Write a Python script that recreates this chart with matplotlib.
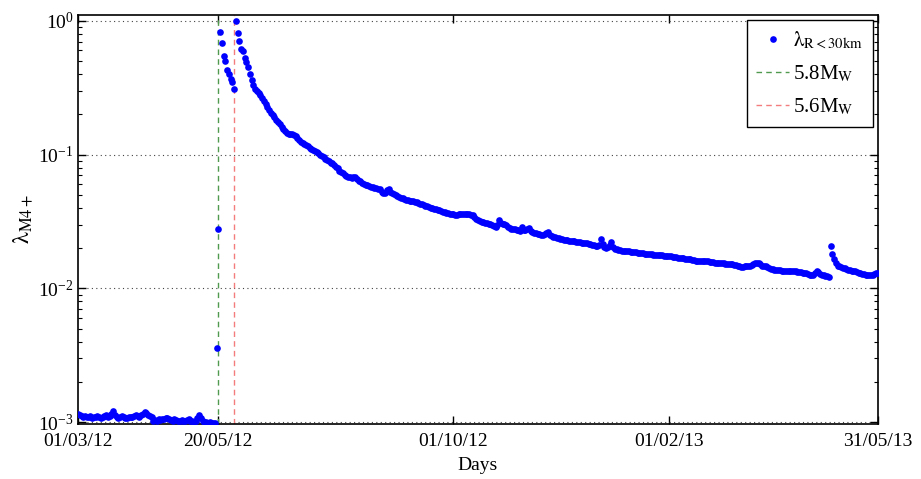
import matplotlib
matplotlib.use('Agg')
import matplotlib.pyplot as plt
import matplotlib.dates as mdates
from matplotlib.ticker import LogLocator, NullFormatter
import numpy as np
import pandas as pd

plt.rcParams['font.family'] = ['Liberation Serif', 'DejaVu Serif']
plt.rcParams['mathtext.fontset'] = 'stix'

start_date = '2012-03-01'
end_date = '2013-05-31'
shock1_date = '2012-05-20'   # 5.8 Mw
shock2_date = '2012-05-29'   # 5.6 Mw
tick_dates = ['2012-03-01', '2012-05-20', '2012-10-01', '2013-02-01', '2013-05-31']

# daily rate, days 0..78 (before first shock)
pre_shock = [1.15e-3, 1.13e-3, 1.12e-3, 1.10e-3, 1.11e-3, 1.09e-3, 1.10e-3, 1.12e-3, 1.08e-3, 1.09e-3, 1.10e-3,
             1.11e-3, 1.09e-3, 1.07e-3, 1.10e-3, 1.12e-3, 1.13e-3, 1.09e-3, 1.11e-3, 1.16e-3, 1.21e-3,
             1.14e-3, 1.10e-3, 1.08e-3, 1.09e-3, 1.12e-3, 1.10e-3, 1.07e-3, 1.08e-3, 1.10e-3, 1.09e-3,
             1.10e-3, 1.11e-3, 1.13e-3, 1.12e-3, 1.10e-3, 1.14e-3, 1.16e-3, 1.19e-3, 1.17e-3, 1.13e-3, 1.12e-3, 1.09e-3,
             1.03e-3, 1.04e-3, 1.02e-3, 1.05e-3, 1.04e-3, 1.06e-3, 1.05e-3, 1.07e-3, 1.08e-3, 1.06e-3, 1.04e-3, 1.03e-3,
             1.05e-3, 1.04e-3, 1.03e-3, 1.02e-3, 1.04e-3, 1.03e-3,
             1.02e-3, 1.04e-3, 1.06e-3, 1.03e-3, 1.02e-3, 1.01e-3, 1.03e-3, 1.08e-3, 1.14e-3, 1.07e-3, 1.02e-3, 1.00e-3,
             1.01e-3, 0.99e-3, 1.00e-3, 0.99e-3, 0.98e-3, 0.99e-3]

# days 79..89 (between the two shocks)
between_shocks = [0.0036, 0.028, 0.83, 0.68, 0.55, 0.50, 0.43, 0.40, 0.37, 0.35, 0.31]

# days 90..456 (after second shock)
after_shock = [
    1.0, 0.81, 0.71, 0.62, 0.59, 0.53, 0.49, 0.45, 0.40, 0.36,
    0.33, 0.31, 0.30, 0.288, 0.28, 0.265, 0.252, 0.24, 0.228, 0.216,
    0.205, 0.198, 0.19, 0.182, 0.175, 0.168, 0.162, 0.156, 0.15, 0.146,
    0.143, 0.142, 0.143, 0.14, 0.137, 0.133, 0.129, 0.125, 0.122, 0.120,
    0.117, 0.115, 0.113, 0.110, 0.108, 0.106, 0.104, 0.102, 0.100, 0.098,
    0.096, 0.093, 0.091, 0.089, 0.087, 0.086, 0.084, 0.0815, 0.079, 0.076,
    0.074, 0.0725, 0.071, 0.069, 0.068, 0.0675, 0.067, 0.068, 0.0686, 0.066,
    0.064, 0.063, 0.0612, 0.060, 0.0595, 0.059, 0.058, 0.0575, 0.0572, 0.0565,
    0.056, 0.0555, 0.055, 0.053, 0.0515, 0.052, 0.054, 0.0552, 0.053, 0.052,
    0.0505, 0.050, 0.049, 0.048, 0.0475, 0.047, 0.0465, 0.0459, 0.0455, 0.0452,
    0.0450, 0.0448, 0.0446, 0.0442, 0.0435, 0.043, 0.0425, 0.042, 0.0414, 0.041,
    0.0405, 0.040, 0.0396, 0.0393, 0.0391, 0.0388, 0.0384, 0.038, 0.0375, 0.037,
    0.0368, 0.0365, 0.0362, 0.036, 0.0358, 0.0355, 0.0356, 0.0358, 0.036, 0.036,
    0.0361, 0.0361, 0.036, 0.0358, 0.0356, 0.0355, 0.034, 0.033, 0.0322, 0.032,
    0.0316, 0.0312, 0.031, 0.0307, 0.0304, 0.0302, 0.0298, 0.0294, 0.029, 0.0298,
    0.0326, 0.031, 0.0305, 0.0302, 0.0299, 0.029, 0.0284, 0.028, 0.0277, 0.0276,
    0.0274, 0.0272, 0.0271, 0.029, 0.0275, 0.0272, 0.0276, 0.0282, 0.027, 0.0262,
    0.026, 0.0258, 0.0256, 0.0254, 0.0252, 0.0251, 0.0255, 0.0258, 0.0262, 0.025,
    0.0247, 0.0244, 0.0242, 0.024, 0.0238, 0.0236, 0.0234, 0.0232, 0.0231, 0.023,
    0.0228, 0.0227, 0.0226, 0.0225, 0.0224, 0.0223, 0.0222, 0.022, 0.0219, 0.0218,
    0.0217, 0.0215, 0.0213, 0.0211, 0.021, 0.0208, 0.0206, 0.0212, 0.0233, 0.0215,
    0.0205, 0.0200, 0.0203, 0.021, 0.0223, 0.0205, 0.0198, 0.0196, 0.0194, 0.0193,
    0.0192, 0.0191, 0.019, 0.0189, 0.0189, 0.0188, 0.0187, 0.0187, 0.0186, 0.0185,
    0.0185, 0.0184, 0.0183, 0.0182, 0.0182, 0.0181, 0.018, 0.018, 0.0179, 0.0179,
    0.0178, 0.0178, 0.0177, 0.0177, 0.0176, 0.0176, 0.0175, 0.0175, 0.0174, 0.0173,
    0.0172, 0.0171, 0.017, 0.017, 0.0169, 0.0168, 0.0167, 0.0167, 0.0166, 0.0165,
    0.0164, 0.0162, 0.0161, 0.016, 0.0159, 0.016, 0.0161, 0.016, 0.0159, 0.0159,
    0.0158, 0.0158, 0.0157, 0.0156, 0.0156, 0.0155, 0.0155, 0.0154, 0.0154, 0.0153,
    0.0153, 0.0152, 0.0151, 0.0151, 0.015, 0.0149, 0.0148, 0.0147, 0.0144, 0.0145,
    0.0146, 0.0146, 0.0146, 0.0147, 0.0149, 0.0152, 0.0154, 0.0156, 0.0155, 0.0151,
    0.0148, 0.0147, 0.0146, 0.0144, 0.0142, 0.014, 0.0139, 0.0138, 0.0138, 0.0137,
    0.0137, 0.0136, 0.0136, 0.0136, 0.0135, 0.0135, 0.0135, 0.0134, 0.0134, 0.0134,
    0.0133, 0.0132, 0.0132, 0.0131, 0.013, 0.013, 0.0128, 0.0127, 0.0126, 0.0127,
    0.0131, 0.0134, 0.0133, 0.0128, 0.0126, 0.0125, 0.0124, 0.0123, 0.0122, 0.0208,
    0.0181, 0.0165, 0.0155, 0.0148, 0.0146, 0.0144, 0.0142, 0.0141, 0.0139, 0.0138,
    0.0137, 0.0136, 0.0135, 0.0134, 0.0133, 0.0131, 0.013, 0.0129, 0.0128, 0.0127,
    0.0126, 0.0126, 0.0126, 0.0127, 0.0128, 0.013, 0.0131,
]

rate = np.array(pre_shock + between_shocks + after_shock)
days = pd.date_range(start_date, periods=len(rate), freq='D')

fig = plt.figure(figsize=(9.21, 4.79), dpi=100)
ax = fig.add_axes([0.0847, 0.1142, 0.8686, 0.8551])

ax.plot(days, rate, 'o', color='#0000ff', ms=4.8, mec='none',
        label=r'$\mathrm{\lambda}_{\mathrm{R<30km}}$', zorder=3)
ax.axvline(pd.Timestamp(shock1_date), color='#4f9a4f', ls=(0, (4, 3)), lw=1.0,
           label=r'5.8M$_{\mathrm{W}}$', zorder=2)
ax.axvline(pd.Timestamp(shock2_date), color='#f47c7c', ls=(0, (4, 3)), lw=1.0,
           label=r'5.6M$_{\mathrm{W}}$', zorder=2)

ax.set_yscale('log')
ax.set_ylim(0.000966, 1.11)
ax.set_xlim(pd.Timestamp(start_date), pd.Timestamp(end_date))

ax.set_xticks([pd.Timestamp(d) for d in tick_dates])
ax.xaxis.set_major_formatter(mdates.DateFormatter('%d/%m/%y'))
ax.yaxis.set_major_locator(LogLocator(base=10, numticks=10))
ax.yaxis.set_minor_locator(LogLocator(base=10, subs=np.arange(2, 10), numticks=10))
ax.yaxis.set_minor_formatter(NullFormatter())

ax.tick_params(which='both', direction='in', top=True, right=True, labelsize=14)
ax.tick_params(axis='x', pad=6)
ax.tick_params(axis='y', pad=3)
ax.tick_params(which='major', length=6, width=1)
ax.tick_params(which='minor', length=3, width=0.8)
ax.grid(True, axis='y', which='major', ls=(0, (1, 3)), color='#444444', lw=0.8)
for s in ax.spines.values():
    s.set_linewidth(1.2)

ax.set_xlabel('Days', fontsize=14, labelpad=5)
ax.set_ylabel(r'$\mathrm{\lambda}_{\mathrm{M4+}}$', fontsize=17, labelpad=2)

leg = ax.legend(loc='upper right', fontsize=15, frameon=True, fancybox=False,
                edgecolor='black', framealpha=1, borderaxespad=0.25,
                handlelength=1.6, handletextpad=0.2, labelspacing=0.6,
                borderpad=0.45, numpoints=1)
leg.get_frame().set_linewidth(1.0)

fig.savefig('out.png', dpi=100)
